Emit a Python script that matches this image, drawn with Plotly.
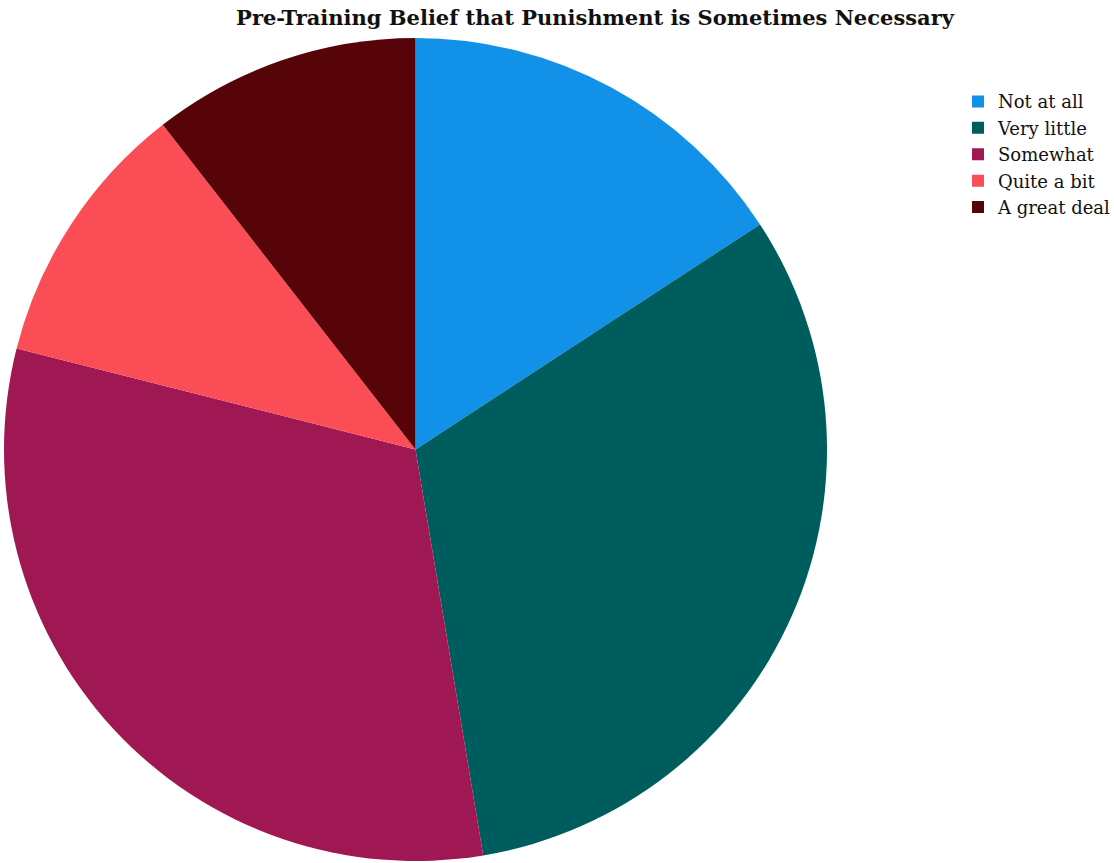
import plotly.graph_objects as go

# Responses to "punishment is sometimes necessary" before training
categories = ["Not at all", "Very little", "Somewhat", "Quite a bit", "A great deal"]
counts = [3, 6, 6, 2, 2]
colors = ["#1192e8", "#005d5d", "#9f1853", "#fa4d56", "#570408"]

W, H = 1114, 863

fig = go.Figure(
    go.Pie(
        labels=categories,
        values=counts,
        sort=False,
        direction="clockwise",
        rotation=0,
        textinfo="none",
        marker=dict(colors=colors, line=dict(width=0)),
        domain=dict(x=[4 / W, 827 / W], y=[0, 1]),
    )
)

fig.update_layout(
    width=W,
    height=H,
    margin=dict(l=0, r=0, t=38, b=2, autoexpand=False),
    paper_bgcolor="white",
    plot_bgcolor="white",
    title=dict(
        text="<b>Pre-Training Belief that Punishment is Sometimes Necessary</b>",
        x=595 / W,
        xanchor="center",
        y=1 - 18 / H,
        yanchor="middle",
        font=dict(family="DejaVu Serif", size=21, color="#111111"),
    ),
    legend=dict(
        x=958 / W,
        xanchor="left",
        y=0.945,
        yanchor="top",
        font=dict(family="DejaVu Serif", size=18, color="#111111"),
        itemwidth=30,
        tracegroupgap=0,
    ),
)

fig.write_html("out.html")
